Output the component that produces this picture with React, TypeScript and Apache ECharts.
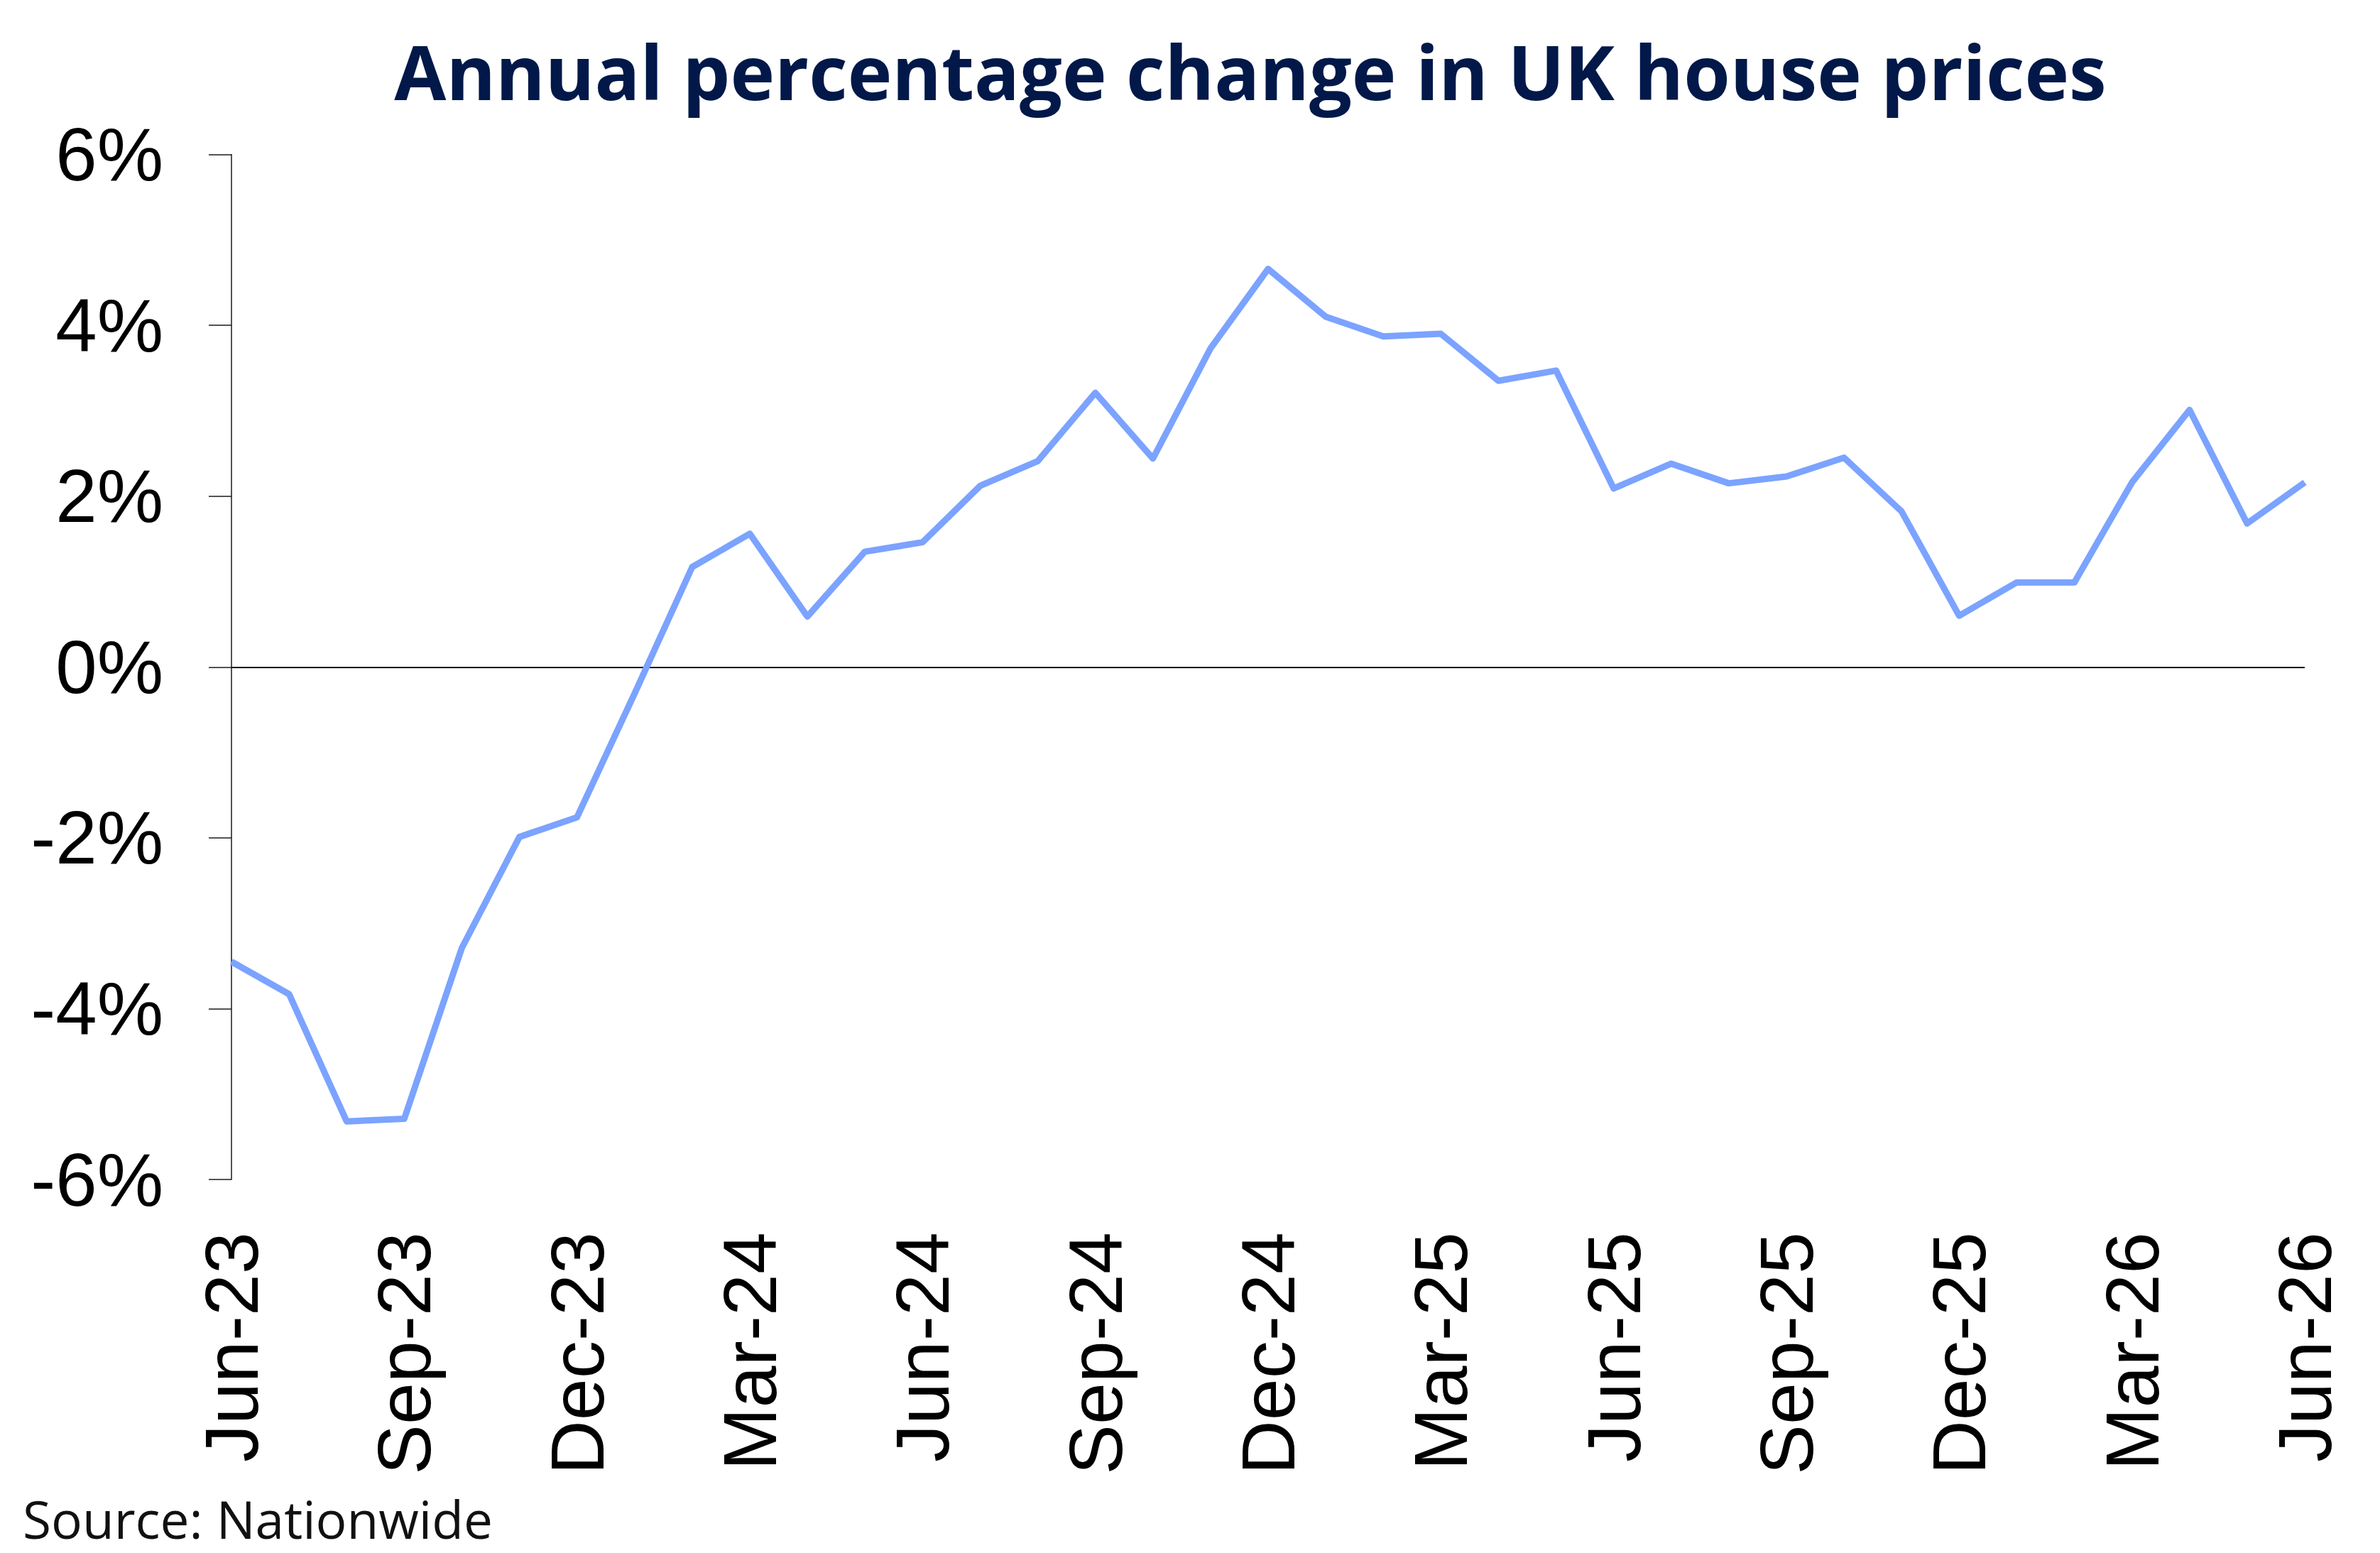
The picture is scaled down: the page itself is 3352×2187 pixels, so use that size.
import React, { useEffect, useRef } from "react";
import * as echarts from "echarts";

const TITLE = "Annual percentage change in UK house prices";
const SOURCE = "Source: Nationwide";

const months = [
  "Jun-23", "Jul-23", "Aug-23", "Sep-23", "Oct-23", "Nov-23", "Dec-23",
  "Jan-24", "Feb-24", "Mar-24", "Apr-24", "May-24", "Jun-24", "Jul-24",
  "Aug-24", "Sep-24", "Oct-24", "Nov-24", "Dec-24", "Jan-25", "Feb-25",
  "Mar-25", "Apr-25", "May-25", "Jun-25", "Jul-25", "Aug-25", "Sep-25",
  "Oct-25", "Nov-25", "Dec-25", "Jan-26", "Feb-26", "Mar-26", "Apr-26",
  "May-26", "Jun-26",
];

const annualChange = [
  -3.45, -3.83, -5.32, -5.29, -3.29, -1.99, -1.76,
  -0.31, 1.17, 1.56, 0.59, 1.35, 1.46, 2.12,
  2.41, 3.21, 2.44, 3.73, 4.66, 4.10, 3.87,
  3.90, 3.35, 3.47, 2.09, 2.38, 2.15, 2.23,
  2.45, 1.82, 0.60, 0.99, 0.99, 2.16, 3.01,
  1.68, 2.16,
];

const yMin = -6;
const yMax = 6;
const yStep = 2;

export default function App() {
  const ref = useRef<HTMLDivElement>(null);

  useEffect(() => {
    if (!ref.current) return;
    const chart = echarts.init(ref.current, null, { renderer: "svg" });
    chart.setOption({
      animation: false,
      backgroundColor: "#ffffff",
      grid: { left: 326, right: 106, top: 217.5, bottom: 526, containLabel: false },
      graphic: [
        {
          type: "text",
          x: 1761,
          y: 100,
          style: {
            text: TITLE,
            font: "bold 106px 'Open Sans'",
            fill: "#011849",
            textAlign: "center",
            textVerticalAlign: "middle",
          },
        },
        {
          type: "text",
          x: 32,
          y: 2138,
          style: {
            text: SOURCE,
            font: "73px 'Open Sans'",
            lineHeight: 80,
            fill: "#111111",
            textAlign: "left",
            textVerticalAlign: "middle",
          },
        },
      ],
      xAxis: {
        type: "category",
        data: months,
        boundaryGap: false,
        axisLine: { show: false, onZero: false },
        axisTick: { show: false },
        splitLine: { show: false },
        axisLabel: {
          interval: 2,
          rotate: 90,
          margin: 74,
          fontFamily: "Liberation Sans",
          fontSize: 106,
          color: "#000000",
          hideOverlap: false,
          showMaxLabel: true,
        },
      },
      yAxis: {
        type: "value",
        min: yMin,
        max: yMax,
        interval: yStep,
        axisLine: { show: true, lineStyle: { color: "#1a1a1a", width: 1.5 } },
        axisTick: { show: true, inside: false, length: 32, lineStyle: { color: "#1a1a1a", width: 1.5 } },
        splitLine: { show: false },
        axisLabel: {
          margin: 96,
          fontFamily: "Liberation Sans",
          fontSize: 105,
          color: "#000000",
          formatter: (v: number) => `${v}%`,
        },
      },
      series: [
        {
          type: "line",
          data: annualChange,
          showSymbol: false,
          symbol: "none",
          lineStyle: { color: "#7BA3FF", width: 9, join: "round" },
          markLine: {
            silent: true,
            symbol: "none",
            label: { show: false },
            lineStyle: { color: "#000000", width: 2, type: "solid" },
            data: [{ yAxis: 0 }],
            z: 1,
          },
          z: 3,
        },
      ],
    });
    return () => chart.dispose();
  }, []);

  return (
    <div
      ref={ref}
      style={{ position: "fixed", left: 0, top: 0, width: 3352, height: 2187, background: "#fff" }}
    />
  );
}
